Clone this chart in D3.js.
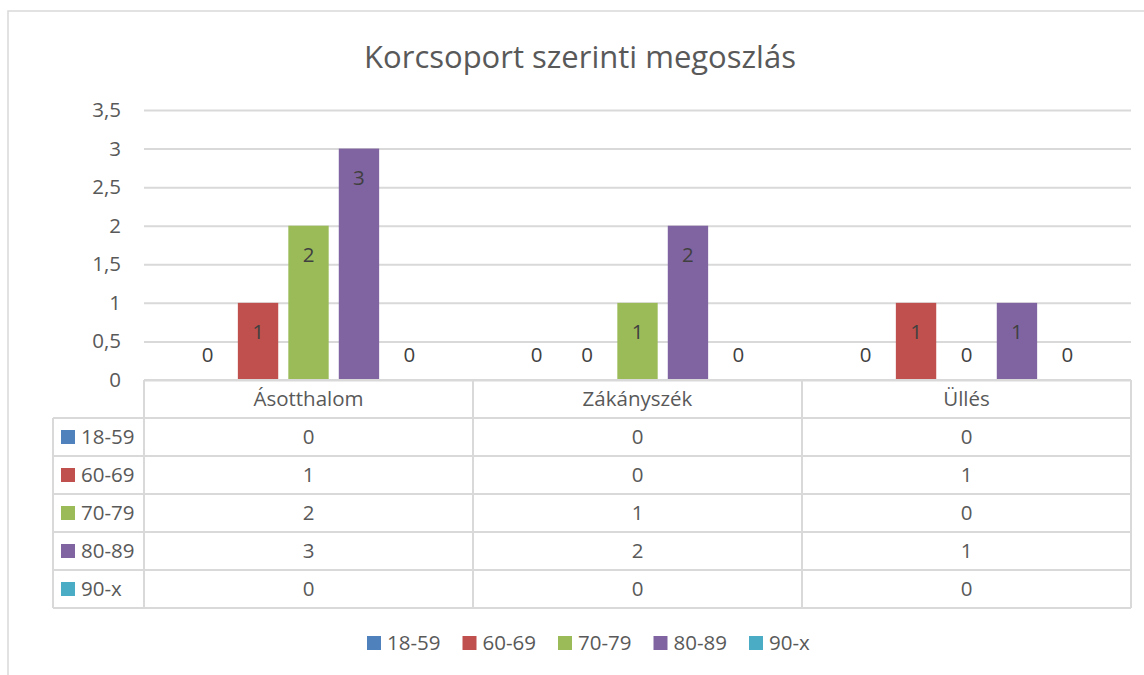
<!DOCTYPE html>
<html lang="hu">
    <head>
        <meta charset="UTF-8" />
        <title>Korcsoport szerinti megoszlás</title>
        <style>
            body {
                margin: 0;
                padding: 0;
                background-color: #ffffff;
                font-family: 'Open Sans', 'Noto Sans', sans-serif;
            }
            svg text {
                fill: #595959;
            }
        </style>
    </head>
    <body>
        <div id="chart"></div>
        <script src="https://d3js.org/d3.v7.min.js"></script>
        <script>
            // data
            const categories = ['Ásotthalom', 'Zákányszék', 'Üllés'];
            const seriesNames = ['18-59', '60-69', '70-79', '80-89', '90-x'];
            const s18_59 = [0, 0, 0];
            const s60_69 = [1, 0, 1];
            const s70_79 = [2, 1, 0];
            const s80_89 = [3, 2, 1];
            const s90_x = [0, 0, 0];
            const yTicks = [0, 0.5, 1, 1.5, 2, 2.5, 3, 3.5];
            const colors = ['#4F81BD', '#C0504D', '#9BBB59', '#8064A2', '#4BACC6'];

            const seriesValues = [s18_59, s60_69, s70_79, s80_89, s90_x];
            const series = seriesNames.map((name, i) => ({ name, color: colors[i], values: seriesValues[i] }));

            const width = 1144;
            const height = 675;
            const plot = { left: 144, right: 1131, top: 110, bottom: 380 };
            const tableLeft = 53;
            const rowH = 38;
            const gridColor = '#D9D9D9';
            const fs = '20.5px';
            const fmt = (d) => String(d).replace('.', ',');

            const svg = d3.select('#chart').append('svg').attr('width', width).attr('height', height);

            // outer chart frame
            svg.append('rect').attr('x', 8).attr('y', 11).attr('width', 1150).attr('height', 680)
                .attr('fill', 'none').attr('stroke', gridColor).attr('stroke-width', 1.5);

            svg.append('text').attr('x', 580).attr('y', 68).attr('text-anchor', 'middle')
                .style('font-size', '31px').text('Korcsoport szerinti megoszlás');

            const x0 = d3.scaleBand().domain(categories).range([plot.left, plot.right]);
            const x1 = d3.scaleBand().domain(seriesNames).range([0, x0.bandwidth()]).paddingInner(0.2).paddingOuter(0.86);
            const y = d3.scaleLinear().domain([0, 3.5]).range([plot.bottom, plot.top]);

            // gridlines + y labels
            const yAxis = svg.append('g').attr('transform', `translate(${plot.left},0)`)
                .call(d3.axisLeft(y).tickValues(yTicks).tickSize(-(plot.right - plot.left)).tickPadding(23).tickFormat(fmt));
            yAxis.select('.domain').remove();
            yAxis.selectAll('.tick line').attr('stroke', gridColor).attr('stroke-width', 2);
            yAxis.selectAll('.tick text').style('font-size', fs).style('font-family', "'Open Sans', sans-serif").attr('fill', '#595959');

            // bars
            const groups = svg.selectAll('.cat').data(categories).join('g')
                .attr('transform', (d) => `translate(${x0(d)},0)`);

            groups.selectAll('rect').data((c, ci) => series.map((s) => ({ s, v: s.values[ci] })))
                .join('rect')
                .attr('x', (d) => x1(d.s.name))
                .attr('width', x1.bandwidth())
                .attr('y', (d) => y(d.v))
                .attr('height', (d) => y(0) - y(d.v))
                .attr('fill', (d) => d.s.color);

            groups.selectAll('text.lbl').data((c, ci) => series.map((s) => ({ s, v: s.values[ci] })))
                .join('text').attr('class', 'lbl')
                .attr('x', (d) => x1(d.s.name) + x1.bandwidth() / 2)
                .attr('y', (d) => (d.v > 0 ? y(d.v) + 36 : y(0) - 18))
                .attr('text-anchor', 'middle')
                .style('font-size', fs)
                .style('fill', '#404040')
                .text((d) => d.v);

            // data table under the axis
            const rows = d3.scaleBand().domain(['head', ...seriesNames]).range([plot.bottom, plot.bottom + rowH * 6]);
            const tbl = svg.append('g').attr('stroke', gridColor).attr('stroke-width', 2);
            tbl.append('line').attr('x1', plot.left).attr('x2', plot.right).attr('y1', plot.bottom).attr('y2', plot.bottom);
            seriesNames.forEach((n) => {
                tbl.append('line').attr('x1', tableLeft).attr('x2', plot.right).attr('y1', rows(n)).attr('y2', rows(n));
            });
            tbl.append('line').attr('x1', tableLeft).attr('x2', plot.right)
                .attr('y1', rows.range()[1]).attr('y2', rows.range()[1]);
            tbl.append('line').attr('x1', tableLeft).attr('x2', tableLeft).attr('y1', rows(seriesNames[0])).attr('y2', rows.range()[1]);
            [...categories.map((c) => x0(c)), plot.right].forEach((xv) => {
                tbl.append('line').attr('x1', xv).attr('x2', xv).attr('y1', plot.bottom).attr('y2', rows.range()[1]);
            });

            svg.selectAll('text.cathead').data(categories).join('text').attr('class', 'cathead')
                .attr('x', (d) => x0(d) + x0.bandwidth() / 2)
                .attr('y', rows('head') + rowH / 2 + 7)
                .attr('text-anchor', 'middle').style('font-size', fs).text((d) => d);

            series.forEach((s) => {
                const ry = rows(s.name);
                svg.append('rect').attr('x', 61).attr('y', ry + rowH / 2 - 7).attr('width', 14).attr('height', 14).attr('fill', s.color);
                svg.append('text').attr('x', 81).attr('y', ry + rowH / 2 + 7).style('font-size', fs).text(s.name);
                svg.selectAll(null).data(s.values).join('text')
                    .attr('x', (d, i) => x0(categories[i]) + x0.bandwidth() / 2)
                    .attr('y', ry + rowH / 2 + 7)
                    .attr('text-anchor', 'middle').style('font-size', fs).text((d) => d);
            });

            // legend
            const legendX = d3.scalePoint().domain(seriesNames).range([367, 749]);
            const legend = svg.selectAll('.leg').data(series).join('g')
                .attr('transform', (d) => `translate(${legendX(d.name)},643)`);
            legend.append('rect').attr('x', 0).attr('y', -7).attr('width', 14).attr('height', 14).attr('fill', (d) => d.color);
            legend.append('text').attr('x', 20).attr('y', 7).style('font-size', fs).text((d) => d.name);
        </script>
    </body>
</html>
